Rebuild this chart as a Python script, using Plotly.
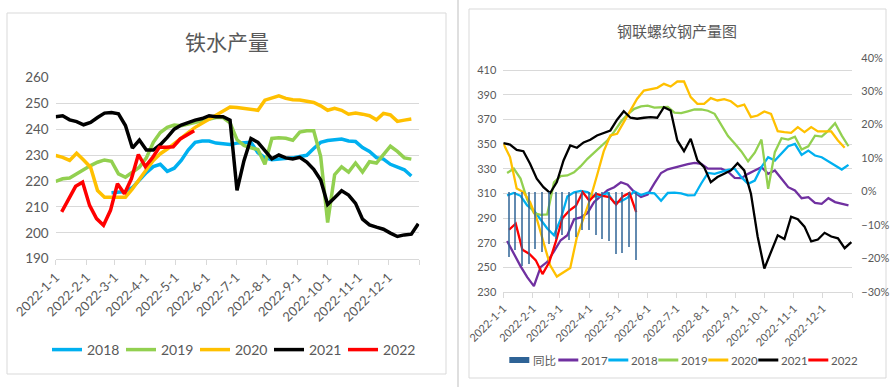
import pandas as pd
import plotly.graph_objects as go

W, H = 896, 387

# ---------------- Left chart: 铁水产量 ----------------
left_title = "铁水产量"
left_series = ["2018", "2019", "2020", "2021", "2022"]
left_colors = ["#00B0F0", "#92D050", "#FFC000", "#000000", "#FF0000"]
left_start = ["2022-02-26", "2022-01-01", "2022-01-01", "2022-01-01", "2022-01-07"]

left_2018 = [215.5, 215.8, 216, 217.5, 220.5, 223.3, 225.6, 226.5, 223.8, 225, 228, 232,
             235, 235.5, 235.5, 234.7, 234.5, 234.2, 234.7, 235, 235, 231, 229.1, 228.3,
             228.5, 228.7, 229, 229.5, 230, 232.6, 235, 235.7, 236, 236.3, 235.5, 235.3,
             233, 231.5, 229.1, 228.5, 226.5, 225.3, 224.4, 222]
left_2019 = [219.9, 220.9, 221.2, 222.8, 224.7, 226, 227.3, 228.2, 227.7, 222.8, 221.5,
             223.5, 225.4, 229, 235, 238.8, 240.8, 241.7, 241.4, 242.1, 242.7, 243.6, 244,
             244.6, 244.6, 242.5, 236, 233.8, 232.9, 232.2, 226.5, 236.5, 236.8, 236.6,
             235.8, 239, 239.5, 239.5, 229.5, 204, 222.5, 225.5, 223.5, 227, 223.5, 227.5,
             227, 230.5, 233.5, 231.5, 229, 228.5]
left_2020 = [229.9, 229.2, 228, 230.8, 228.2, 225.4, 216.4, 213.8, 213.8, 213.8, 213.8, 217,
             220.9, 224.4, 228, 230.6, 232.4, 234.6, 236.9, 238.8, 240.8, 242.4, 244, 245.3,
             246.9, 248.7, 248.5, 248.2, 247.6, 247.4, 251.3, 252, 253, 252, 251.5, 251.4,
             251, 250.4, 249.1, 247.4, 248.2, 247.4, 245.9, 246.3, 245.9, 245.3, 243.7,
             246.2, 245.6, 243.1, 243.6, 244]
left_2021 = [244.9, 245.3, 243.7, 243, 241.8, 242.7, 244.6, 246.3, 246.5, 246, 241.5, 232.8,
             235.9, 232, 232, 234.1, 236.9, 240.1, 241.7, 242.7, 243.6, 244.2, 245.3, 244.9,
             244.9, 243.6, 216.4, 227.9, 236.5, 235, 231.8, 228.6, 230.1, 229, 228.6, 229.2,
             227.4, 224.6, 220.4, 211, 213.6, 216.3, 214.6, 211.4, 205.3, 203.1, 202.2,
             201.4, 199.9, 198.6, 199.2, 199.5, 203.5]
left_2022 = [208.1, 213.2, 218, 219.6, 210.6, 205.5, 202.9, 208.7, 219, 215.1, 220.9, 230.3,
             225.6, 229, 233.1, 233.1, 233.3, 236.3, 237.9, 239.5]
left_values = [left_2018, left_2019, left_2020, left_2021, left_2022]
left_y_ticks = [190, 200, 210, 220, 230, 240, 250, 260]

# ---------------- Right chart: 钢联螺纹钢产量图 ----------------
right_title = "钢联螺纹钢产量图"
right_series = ["2017", "2018", "2019", "2020", "2021", "2022"]
right_colors = ["#7030A0", "#00B0F0", "#92D050", "#FFC000", "#000000", "#FF0000"]
right_start = ["2022-01-05", "2022-01-05", "2022-01-05", "2022-01-01", "2022-01-01", "2022-01-07"]

right_2017 = [271.3, 261, 251, 242, 234.8, 250.2, 254.5, 263, 272, 276, 289, 290.5, 294, 303,
              307.5, 312.5, 315, 319, 317, 311, 307, 309, 318, 326.5, 329.5, 331, 332.3,
              333.7, 334.7, 334, 330, 330, 330, 327.5, 322.5, 322.3, 325.8, 328.5, 331.2,
              325.8, 328.5, 321.8, 315, 312.3, 306.1, 306.9, 302.3, 301.5, 306.1, 302.9,
              301.5, 300.2]
right_2018 = [308.3, 310.3, 308, 300.2, 296, 289, 281.5, 276, 289, 307.5, 310.8, 312, 311,
              307.5, 307.5, 310.5, 302.5, 303.5, 306.5, 311.5, 308.6, 310.5, 310, 304, 310.3,
              310.6, 310, 308.3, 308.5, 318, 326.6, 325.8, 327.7, 329, 330, 323.1, 317.7,
              320.4, 331.2, 339.3, 336.6, 342, 348.2, 350.1, 341.2, 344.7, 340.7, 339.3,
              335.8, 332.6, 329.3, 333.1]
right_2019 = [326.5, 330, 322, 305, 294, 292.5, 293, 319, 324, 324.5, 327, 332, 338, 343, 348,
              353, 360, 368, 374, 378.5, 380.5, 381.2, 379.5, 380, 380, 375.5, 375, 376.5,
              378, 378, 377, 374.5, 366, 356.5, 350.5, 344, 336, 343, 353.6, 313.7, 343.4,
              354.7, 353.6, 356, 345.5, 348.2, 356.8, 356, 360.9, 366.8, 356.8, 348.2]
right_2020 = [350.5, 339.4, 314, 311, 303, 289.4, 270.5, 251.6, 242.5, 246, 249.5, 274.5,
              289.4, 305.6, 324.5, 344, 357, 358.3, 367.7, 377.2, 386.7, 393.4, 394.8, 395.6,
              398.8, 396.6, 400.7, 400.7, 388, 382.6, 382.6, 387.2, 385.3, 386.4, 384.7, 380.4,
              382, 371.8, 373.1, 376.4, 374.5, 360.4, 359.6, 359.1, 363.7, 359.6, 363.7,
              360.2, 360.2, 360.2, 352.9, 347]
right_2021 = [350.7, 349.6, 345.3, 344.2, 334, 321.9, 315, 310.2, 319.1, 336.7, 348.8, 347,
              351.3, 353.4, 356.9, 358.8, 361, 369.7, 376.6, 371.3, 370.5, 371.3, 371.8, 371.3,
              379.9, 377.2, 352.9, 344.2, 354.3, 336.7, 331.3, 319.1, 323.2, 325.9, 328.6,
              334.5, 328.6, 309.7, 275, 249, 262, 276, 273, 291, 289, 283, 271, 272.5, 278,
              275, 273.5, 265.5, 270.5]
right_2022 = [280.5, 285.4, 264.3, 261.1, 255.7, 244.5, 254, 271, 290, 296, 300, 311, 304,
              309.7, 308, 307, 301, 307.5, 310.3, 294.8]
right_values = [right_2017, right_2018, right_2019, right_2020, right_2021, right_2022]
yoy_name = "同比"
yoy_color = "#2E6396"
yoy_pct = [-19.6, -17.4, -22, -21.5, -17, -18, -15.5, -14, -13, -14.5, -13.5, -11.5, -11.3,
           -13, -14, -14.8, -18.5, -18.2, -16.5, -20.2]
right_y_ticks = [230, 250, 270, 290, 310, 330, 350, 370, 390, 410]
right_y2_ticks = [-0.3, -0.2, -0.1, 0, 0.1, 0.2, 0.3, 0.4]

month_ticks = [f"2022-{m:02d}-01" for m in range(1, 13)] + ["2023-01-01"]
month_text = [f"2022-{m}-1" for m in range(1, 13)] + [""]

# ---------------- helpers ----------------
def fx(px):
    return px / W

def fy(py):
    return 1 - py / H

def dates(start, n):
    return pd.date_range(start, periods=n, freq="7D")

FONT = "Lato, 'Noto Sans CJK SC', sans-serif"
CJK = "'Noto Sans CJK SC', sans-serif"
TXT = "#595959"
GRID = "#D9D9D9"

fig = go.Figure()

for name, col, st, vals in zip(left_series, left_colors, left_start, left_values):
    fig.add_trace(go.Scatter(x=dates(st, len(vals)), y=vals, name=name, mode="lines",
                             line=dict(color=col, width=3.5), xaxis="x", yaxis="y",
                             legend="legend"))

fig.add_trace(go.Bar(x=dates(right_start[5], len(yoy_pct)), y=[v / 100 for v in yoy_pct],
                     name=yoy_name, marker=dict(color=yoy_color, line=dict(width=0)),
                     opacity=0.75, width=1.2 * 86400000, xaxis="x2", yaxis="y3",
                     showlegend=False))
for name, col, st, vals in zip(right_series, right_colors, right_start, right_values):
    fig.add_trace(go.Scatter(x=dates(st, len(vals)), y=vals, name=name, mode="lines",
                             line=dict(color=col, width=2.3), xaxis="x2", yaxis="y2",
                             showlegend=False))

# manual legend for the right panel (compact spacing like the original)
shapes = []
annotations = []
lx0, ly = 509.3, 360
shapes.append(dict(type="rect", xref="paper", yref="paper", x0=fx(lx0), x1=fx(lx0 + 20),
                   y0=fy(363), y1=fy(357), line=dict(width=0), fillcolor=yoy_color))
annotations.append(dict(text=yoy_name, x=fx(lx0 + 22), y=fy(ly), xref="paper", yref="paper",
                        showarrow=False, xanchor="left", yanchor="middle",
                        font=dict(family=CJK, size=11.5, color=TXT)))
for j, (name, col) in enumerate(zip(right_series, right_colors)):
    sx = 558.3 + 50 * j
    shapes.append(dict(type="line", xref="paper", yref="paper", x0=fx(sx), x1=fx(sx + 20),
                       y0=fy(ly), y1=fy(ly), line=dict(color=col, width=3)))
    annotations.append(dict(text=name, x=fx(sx + 21), y=fy(ly), xref="paper", yref="paper",
                            showarrow=False, xanchor="left", yanchor="middle",
                            font=dict(family=FONT, size=11.5, color=TXT)))

annotations += [
    dict(text=left_title, x=fx(227), y=fy(41), xref="paper", yref="paper",
         showarrow=False, xanchor="center", yanchor="middle",
         font=dict(family=CJK, size=21, color=TXT)),
    dict(text=right_title, x=fx(677), y=fy(30), xref="paper", yref="paper",
         showarrow=False, xanchor="center", yanchor="middle",
         font=dict(family=CJK, size=15, color=TXT)),
]
shapes += [
    dict(type="rect", xref="paper", yref="paper", x0=fx(7), x1=fx(446), y0=fy(374),
         y1=fy(13), line=dict(color=GRID, width=1), fillcolor="rgba(0,0,0,0)",
         layer="below"),
    dict(type="rect", xref="paper", yref="paper", x0=fx(469), x1=fx(886), y0=fy(378),
         y1=fy(9), line=dict(color=GRID, width=1), fillcolor="rgba(0,0,0,0)",
         layer="below"),
    dict(type="line", xref="paper", yref="paper", x0=fx(458), x1=fx(458), y0=0, y1=1,
         line=dict(color="#BFBFBF", width=1)),
]

xaxis_common = dict(type="date", range=["2022-01-01", "2023-01-01"], tickmode="array",
                    tickvals=month_ticks, ticktext=month_text, tickangle=-45,
                    showgrid=False, showline=True, linecolor=GRID, linewidth=1,
                    ticks="outside", ticklen=5, tickcolor=GRID, zeroline=False,
                    automargin=False)

fig.update_layout(
    width=W, height=H, margin=dict(l=0, r=0, t=0, b=0, autoexpand=False),
    paper_bgcolor="white", plot_bgcolor="white", showlegend=True,
    bargap=0,
    xaxis=dict(domain=[fx(55.7), fx(419.3)], anchor="y",
               tickfont=dict(family=FONT, size=13, color=TXT), **xaxis_common),
    yaxis=dict(domain=[fy(258.7), fy(77.7)], anchor="x", range=[190, 260],
               tickvals=left_y_ticks, showgrid=True, gridcolor=GRID, gridwidth=1,
               zeroline=False, showline=False, ticks="", ticklabelstandoff=6,
               automargin=False, tickfont=dict(family=FONT, size=13.5, color=TXT)),
    xaxis2=dict(domain=[fx(503.3), fx(852.3)], anchor="y2",
                tickfont=dict(family=FONT, size=11, color=TXT), **xaxis_common),
    yaxis2=dict(domain=[fy(292), fy(57.7)], anchor="x2", range=[230, 420],
                tickvals=right_y_ticks, showgrid=True, gridcolor=GRID, gridwidth=1,
                zeroline=False, showline=False, ticks="", ticklabelstandoff=6,
                automargin=False, tickfont=dict(family=FONT, size=11, color=TXT)),
    yaxis3=dict(overlaying="y2", side="right", anchor="x2", range=[-0.3, 0.4],
                tickvals=right_y2_ticks, tickformat=".0%", showgrid=False,
                zeroline=False, showline=False, ticks="", ticklabelstandoff=8,
                automargin=False, tickfont=dict(family=FONT, size=11, color=TXT)),
    legend=dict(orientation="h", x=fx(232), y=fy(350), xanchor="center", yanchor="middle",
                font=dict(family=FONT, size=14, color=TXT), itemwidth=30,
                entrywidth=29, entrywidthmode="pixels",
                bgcolor="rgba(0,0,0,0)", traceorder="normal"),
    annotations=annotations,
    shapes=shapes,
)

fig.write_html("out.html", config={"displayModeBar": False},
               post_script="document.body.style.margin='0px';document.body.style.overflow='hidden';")
